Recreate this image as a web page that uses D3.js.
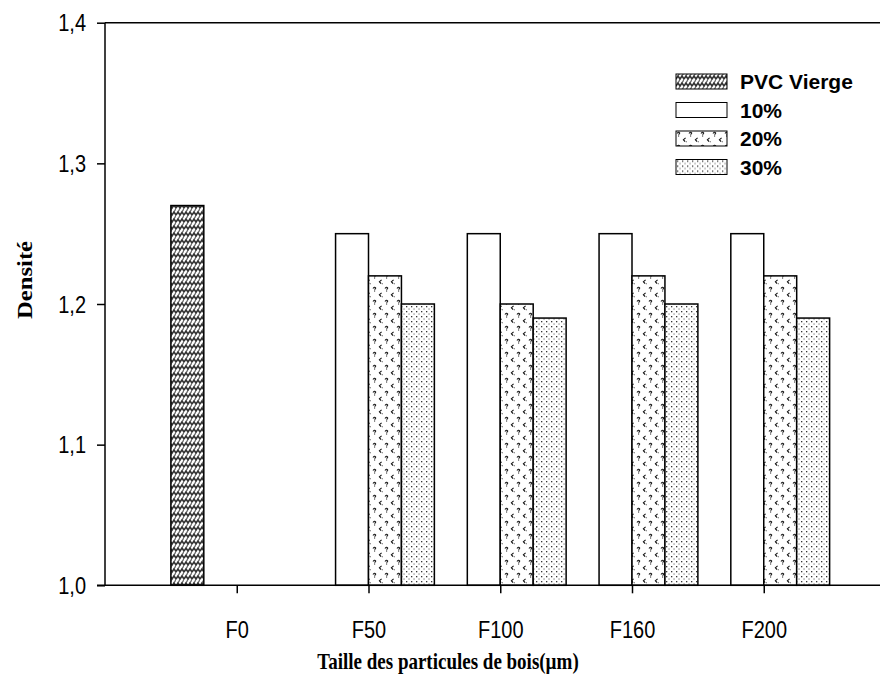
<!DOCTYPE html>
<html>
<head>
<meta charset="utf-8">
<script src="https://cdn.jsdelivr.net/npm/d3@7"></script>
<style>
  html, body { margin: 0; padding: 0; background: #fff; }
  svg { display: block; }
</style>
</head>
<body>
<script>
// Density of PVC / wood-flour composites by particle size
const categories = ["F0", "F50", "F100", "F160", "F200"];
const seriesNames = ["PVC Vierge", "10%", "20%", "30%"];
const pvcVierge = [1.27, null, null, null, null];
const pct10 = [null, 1.25, 1.25, 1.25, 1.25];
const pct20 = [null, 1.22, 1.20, 1.22, 1.22];
const pct30 = [null, 1.20, 1.19, 1.20, 1.19];
const yTicks = [1.0, 1.1, 1.2, 1.3, 1.4];
const yTickLabels = ["1,0", "1,1", "1,2", "1,3", "1,4"];

const seriesValues = [pvcVierge, pct10, pct20, pct30];
const fills = ["url(#weave)", "#fff", "url(#marks)", "url(#dots)"];

const W = 880, H = 678;
const stretch = 1.18; // text is drawn slightly taller than wide
const sans = "Liberation Sans, Arial, sans-serif";
const serif = "Liberation Serif, Times New Roman, serif";
const svg = d3.select("body").append("svg").attr("width", W).attr("height", H);

// Fill patterns
const defs = svg.append("defs");
const weave = defs.append("pattern").attr("id", "weave")
  .attr("patternUnits", "userSpaceOnUse").attr("width", 8).attr("height", 7);
weave.append("rect").attr("width", 8).attr("height", 7).attr("fill", "#fff");
weave.append("path").attr("d", "M0,5 L2,2 L4,5 L6,2 L8,5")
  .attr("fill", "none").attr("stroke", "#333").attr("stroke-width", 1.6);
weave.append("path").attr("d", "M2,2 L3.5,-0.5 M6,2 L7.5,-0.5 M-2,2 L-0.5,-0.5 M0,5 L-1,7 M4,5 L3,7 M8,5 L7,7")
  .attr("fill", "none").attr("stroke", "#555").attr("stroke-width", 1.1);

const marks = defs.append("pattern").attr("id", "marks")
  .attr("patternUnits", "userSpaceOnUse").attr("width", 12).attr("height", 13);
marks.append("rect").attr("width", 12).attr("height", 13).attr("fill", "#fff");
marks.append("path").attr("d", "M1,2.5 Q2.5,0.3 3.7,2 L2.6,3.6 M2.6,4.6 L2.6,5.4")
  .attr("fill", "none").attr("stroke", "#111").attr("stroke-width", 1.1);
marks.append("path").attr("d", "M9.6,6.8 L7.4,8.7 L9.1,10.6 M9.9,10.8 L10.6,10.8")
  .attr("fill", "none").attr("stroke", "#111").attr("stroke-width", 1.1);

const dots = defs.append("pattern").attr("id", "dots")
  .attr("patternUnits", "userSpaceOnUse").attr("width", 5).attr("height", 5);
dots.append("rect").attr("width", 5).attr("height", 5).attr("fill", "#fff");
dots.append("rect").attr("x", 1).attr("y", 1).attr("width", 1.3).attr("height", 1.3).attr("fill", "#333");
dots.append("rect").attr("x", 3.5).attr("y", 3.5).attr("width", 1.1).attr("height", 1.1).attr("fill", "#666");

// Scales
const plotLeft = 105, plotTop = 22.7, plotBottom = 585.3;
const x = d3.scaleLinear().domain([0, categories.length + 1]).range([plotLeft, plotLeft + 6 * 131.75]);
const y = d3.scaleLinear().domain([1.0, 1.4]).range([plotBottom, plotTop]);
const unit = x(1) - x(0);
const barW = unit / seriesNames.length;

// Bars
seriesValues.forEach((vals, s) => {
  svg.append("g").selectAll("rect")
    .data(vals.map((v, i) => ({ v, i })).filter(d => d.v != null))
    .join("rect")
    .attr("x", d => x(d.i + 1) - unit / 2 + s * barW)
    .attr("y", d => y(d.v))
    .attr("width", barW)
    .attr("height", d => y(1.0) - y(d.v))
    .attr("fill", fills[s])
    .attr("stroke", "#000")
    .attr("stroke-width", 1.5);
});

// Frame: top line and axes
svg.append("line").attr("x1", plotLeft).attr("x2", W).attr("y1", plotTop).attr("y2", plotTop)
  .attr("stroke", "#000").attr("stroke-width", 1.5);

const yAxis = d3.axisLeft(y).tickValues(yTicks)
  .tickFormat((d, i) => yTickLabels[i]).tickSize(8).tickPadding(11);
const gy = svg.append("g").attr("transform", `translate(${plotLeft},0)`).call(yAxis);
gy.select(".domain").remove();
gy.append("line").attr("x1", 0).attr("x2", 0).attr("y1", plotTop).attr("y2", plotBottom)
  .attr("stroke", "#000").attr("stroke-width", 1.5);
gy.selectAll(".tick line").attr("stroke-width", 1.5);
gy.selectAll(".tick text")
  .attr("font-family", sans).attr("font-size", 20).attr("fill", "#000")
  .attr("dy", null).attr("x", null)
  .attr("transform", `translate(-19,8) scale(1,${stretch})`);

const xAxis = d3.axisBottom(x).tickValues(d3.range(1, categories.length + 1))
  .tickFormat(d => categories[d - 1]).tickSize(8).tickPadding(21);
const gx = svg.append("g").attr("transform", `translate(0,${plotBottom})`).call(xAxis);
gx.select(".domain").remove();
gx.append("line").attr("x1", plotLeft - 8).attr("x2", W).attr("y1", 0).attr("y2", 0)
  .attr("stroke", "#000").attr("stroke-width", 1.5);
gx.selectAll(".tick line").attr("stroke-width", 1.5);
gx.selectAll(".tick text")
  .attr("font-family", sans).attr("font-size", 20).attr("fill", "#000")
  .attr("dy", null).attr("y", null)
  .attr("transform", `translate(0,52.5) scale(1,${stretch})`);

// Axis titles
svg.append("text").attr("transform", `translate(448,669) scale(1,1.22)`)
  .attr("text-anchor", "middle")
  .attr("font-family", serif).attr("font-weight", "bold").attr("font-size", 19)
  .text("Taille des particules de bois(µm)");
svg.append("text").attr("transform", "translate(32,280) rotate(-90) scale(1.3,1.08)")
  .attr("text-anchor", "middle")
  .attr("font-family", serif).attr("font-weight", "bold").attr("font-size", 19)
  .text("Densité");

// Legend
const legend = svg.append("g").attr("transform", "translate(676,74)");
seriesNames.forEach((name, i) => {
  const row = legend.append("g").attr("transform", `translate(0,${i * 28.5})`);
  row.append("rect").attr("width", 51).attr("height", 15)
    .attr("fill", fills[i]).attr("stroke", "#000").attr("stroke-width", 1);
  row.append("text").attr("x", 64).attr("y", 15)
    .attr("font-family", sans).attr("font-weight", "bold").attr("font-size", 21)
    .text(name);
});
</script>
</body>
</html>
